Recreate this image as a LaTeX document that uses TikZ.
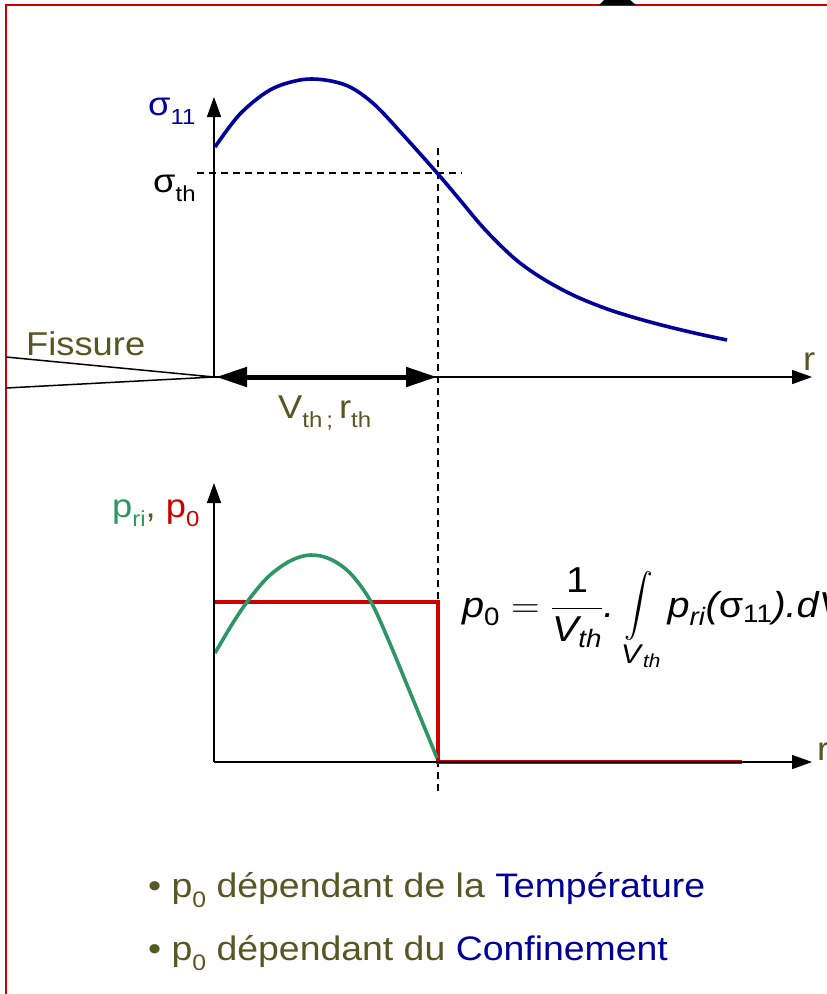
\RequirePackage{fix-cm}
\documentclass[tikz,border=0pt]{standalone}
\usepackage{amsmath}
\usepackage{fontspec}
\setmainfont{Liberation Sans}
\usetikzlibrary{arrows.meta}
\definecolor{olv}{RGB}{85,88,35}
\definecolor{blu}{RGB}{0,0,153}
\definecolor{grn}{RGB}{46,150,100}
\definecolor{rd}{RGB}{204,0,0}
\newcommand\sx[1]{\scalebox{1.1}[1]{#1}}
\newcommand\sbs[1]{\raisebox{-0.3em}{\scalebox{0.66}{#1}}}
\tikzset{
  txt/.style={inner sep=0pt, anchor=base west, font=\fontsize{33}{40}\selectfont},
  big/.style={font=\fontsize{34}{41}\selectfont},
  axis/.style={line width=1.6pt, -{Triangle[length=20pt,width=14pt]}},
  dsh/.style={line width=1.3pt, dash pattern=on 7pt off 5pt},
  thinline/.style={line width=1.5pt},
  border/.style={draw=rd, line width=2pt},
}
\begin{document}
\begin{tikzpicture}[x=1pt,y=-1pt]
\useasboundingbox (0,0) rectangle (827,994);
\clip (0,0) rectangle (827,994);
\fill[white] (0,0) rectangle (827,994);
% frame
\draw[border] (6,1100) -- (6,5) -- (900,5);
\fill[black] (599,5) -- (604,0) -- (630,0) -- (636,5) -- cycle;

% ---------- upper plot ----------
\coordinate (O1) at (214,377);
\coordinate (Y1) at (214,97);
\coordinate (X1) at (812,377);
\coordinate (c1) at (6,357);
\coordinate (c2) at (6,388);
\coordinate (A1) at (216,377);
\coordinate (A2) at (437,377);
\coordinate (vd1) at (438,148);
\coordinate (vd2) at (438,792);
\coordinate (hd1) at (197,173);
\coordinate (hd2) at (462,173);

\draw[dsh] (vd1) -- (vd2);
\draw[dsh] (hd1) -- (hd2);
\draw[axis] (O1) -- (Y1);
\draw[axis] (O1) -- (X1);
\draw[thinline] (c1) -- (O1) -- (c2);
\draw[line width=5pt, {Triangle[length=31pt,width=19pt]}-{Triangle[length=31pt,width=19pt]}] (A1) -- (A2);

\draw[blu, line width=3.6pt] plot[smooth, tension=0.55] coordinates {
 (215,147) (240,114) (270,90) (300,80) (325,80) (350,87) (375,105) (405,137)
 (438,174) (460,200) (480,224) (500,245) (520,263) (545,280) (575,296)
 (610,310) (650,322) (690,332) (727,340)};

\node[txt, blu] (s11) at (148,115) {\sx{σ\sbs{11}}};
\node[txt] (sth) at (153,192) {\sx{σ\sbs{th}}};
\node[txt, olv] (fis) at (26,355) {\sx{Fissure}};
\node[txt, olv] (vth) at (278,418) {\sx{V\sbs{th\,;}\,r\sbs{th}}};
\node[txt, olv] (r1) at (803,370) {\sx{r}};

% ---------- lower plot ----------
\coordinate (O2) at (214,762);
\coordinate (Y2) at (214,483);
\coordinate (X2) at (812,762);
\coordinate (R1) at (214,602);
\coordinate (R2) at (438,602);
\coordinate (R3) at (438,762);
\coordinate (R4) at (742,762);

\draw[rd, line width=3.6pt] (R1) -- (R2) -- (R3) -- (R4);
\draw[grn, line width=3.6pt] plot[smooth, tension=0.55] coordinates {
 (215,653) (231,626) (247,602) (268,577) (290,561) (310,555) (330,559)
 (350,573) (370,600) (388,639) (412,697) (437,758)};
\draw[axis] (O2) -- (Y2);
\draw[axis] (O2) -- (X2);

\node[txt] (pl) at (112,517) {\sx{{\color{grn}p\sbs{ri}}{\color{olv},} {\color{rd}p\sbs{0}}}};
\node[txt, olv] (r2) at (817,760) {\sx{r}};

\node[inner sep=0pt, anchor=base west, font=\fontsize{36}{40}\selectfont] (form) at (462,617)
 {\sx{$\displaystyle \textit{p}_{\text{0}} = \frac{\text{1}}{\textit{V}_{\textit{th}}}\textit{.}\mathop{\scalebox{1.05}[1.25]{$\displaystyle\int$}}\limits_{\mbox{\fontsize{27}{30}\selectfont\textit{V}$_{\textit{th}}$}}\textit{p}_{\textit{ri}}\textit{(}\text{σ}_{\text{11}}\textit{).dV}$}};

% ---------- bullets ----------
\node[txt, big, olv] (b1) at (148,897) {\sx{• p\sbs{0} dépendant de la {\color{blu}Température}}};
\node[txt, big, olv] (b2) at (148,960) {\sx{• p\sbs{0} dépendant du {\color{blu}Confinement}}};
\end{tikzpicture}
\end{document}
